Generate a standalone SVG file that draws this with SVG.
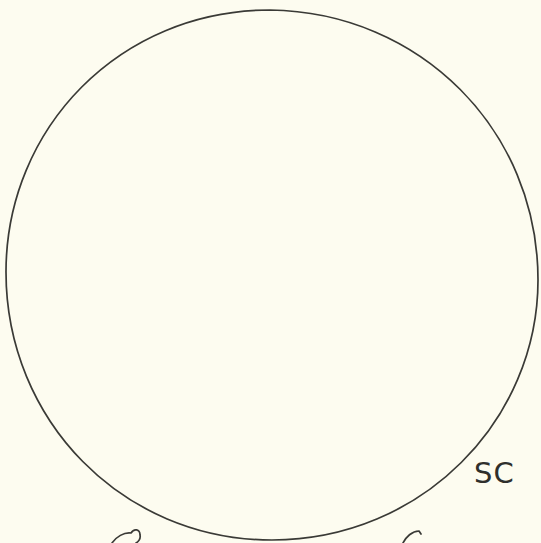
<svg xmlns="http://www.w3.org/2000/svg" width="541" height="543" viewBox="0 0 541 543">
<style>
.ink{fill:none;stroke:#3a3a36;stroke-width:1.7;stroke-linecap:round;stroke-linejoin:round}
.lbl{font-family:"DejaVu Sans",sans-serif;font-size:29px;fill:#2f2f2c;letter-spacing:1px}
</style>
<rect width="541" height="543" fill="#fdfcf0"/>
<g id="circle">
<path class="ink" d="M270,10 C120,10 6,128 6,272 C6,420 122,540 272,540 C422,540 538,420 538,280 C538,130 420,12 270,10 Z"/>
</g>
<g id="label-sc">
<text class="lbl" x="474" y="483">SC</text>
</g>
<g id="marks">
<path class="ink" d="M112,543 C116,537 124,532 131,533 C134,528 140,529 140,535 C141,539 138,542 136,543"/>
<path class="ink" d="M403,543 C406,537 412,531 419,531 L421,534"/>
</g>
<g id="connectors"/>
</svg>
